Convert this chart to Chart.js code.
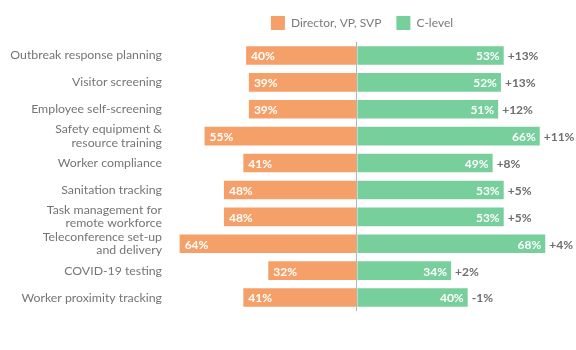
<!DOCTYPE html>
<html>
<head>
<meta charset="utf-8">
<script src="https://cdn.jsdelivr.net/npm/chart.js@4/dist/chart.umd.min.js"></script>
<style>
  html, body { margin: 0; padding: 0; background: #ffffff; }
  #wrap { width: 576px; height: 350px; position: relative; }
</style>
</head>
<body>
<div id="wrap"><canvas id="c" width="576" height="350"></canvas></div>
<script>
const categories = [
  "Outbreak response planning",
  "Visitor screening",
  "Employee self-screening",
  ["Safety equipment &", "resource training"],
  "Worker compliance",
  "Sanitation tracking",
  ["Task management for", "remote workforce"],
  ["Teleconference set-up", "and delivery"],
  "COVID-19 testing",
  "Worker proximity tracking"
];
const seriesNames = ["Director, VP, SVP", "C-level"];
const directorValues = [40, 39, 39, 55, 41, 48, 48, 64, 32, 41];
const cLevelValues = [53, 52, 51, 66, 49, 53, 53, 68, 34, 40];
const diffLabels = ["+13%", "+13%", "+12%", "+11%", "+8%", "+5%", "+5%", "+4%", "+2%", "-1%"];

const ORANGE = "#F5A068";
const GREEN = "#77CF9B";
const FONT = "Lato, 'Open Sans', sans-serif";

const barLabels = {
  id: "barLabels",
  afterDatasetsDraw(chart) {
    const ctx = chart.ctx;
    ctx.save();
    ctx.textBaseline = "middle";
    ctx.font = "bold 12px " + FONT;
    const m0 = chart.getDatasetMeta(0);
    const m1 = chart.getDatasetMeta(1);
    m0.data.forEach((el, i) => {
      ctx.fillStyle = "#ffffff";
      ctx.textAlign = "left";
      ctx.fillText(directorValues[i] + "%", el.x + 5, el.y + 1);
    });
    m1.data.forEach((el, i) => {
      ctx.fillStyle = "#ffffff";
      ctx.textAlign = "right";
      ctx.fillText(cLevelValues[i] + "%", el.x - 4, el.y + 1);
      ctx.fillStyle = "#6e6e6e";
      ctx.textAlign = "left";
      ctx.fillText(diffLabels[i], el.x + 4, el.y + 1);
    });
    ctx.restore();
  }
};

// shift the legend so it is centred over the bar area like the reference
const legendShift = {
  id: "legendShift",
  beforeDraw(chart) {
    if (chart.legend) {
      chart.legend.left = 148;
      chart.legend.top = 1;
    }
  }
};

new Chart(document.getElementById("c"), {
  type: "bar",
  data: {
    labels: categories,
    datasets: [
      { label: seriesNames[0], data: directorValues.map(v => -v), backgroundColor: ORANGE, borderWidth: 0 },
      { label: seriesNames[1], data: cLevelValues, backgroundColor: GREEN, borderWidth: 0 }
    ]
  },
  options: {
    indexAxis: "y",
    responsive: false,
    animation: false,
    layout: { padding: { left: 0, right: 0, top: 3, bottom: 39 } },
    datasets: { bar: { barPercentage: 0.69, categoryPercentage: 1 } },
    scales: {
      x: {
        stacked: true,
        min: -68.2,
        max: 79.1,
        ticks: { display: false, stepSize: 20 },
        grid: {
          drawTicks: false,
          color: c => (c.tick && c.tick.value === 0 ? "#b5b5b5" : "rgba(0,0,0,0)"),
          lineWidth: 1
        },
        border: { display: false },
        afterFit: s => { s.height = 0; }
      },
      y: {
        stacked: true,
        grid: { display: false, drawTicks: false },
        border: { display: false },
        ticks: {
          autoSkip: false,
          color: "#757575",
          padding: 6,
          font: { family: FONT, size: 12.3, lineHeight: 1.08 }
        },
        afterFit: s => { s.width = 168; }
      }
    },
    plugins: {
      legend: {
        position: "top",
        labels: {
          boxWidth: 14,
          boxHeight: 14,
          padding: 15,
          color: "#7a7a7a",
          font: { family: FONT, size: 12 }
        }
      },
      tooltip: { enabled: false }
    }
  },
  plugins: [barLabels, legendShift]
});
</script>
</body>
</html>
